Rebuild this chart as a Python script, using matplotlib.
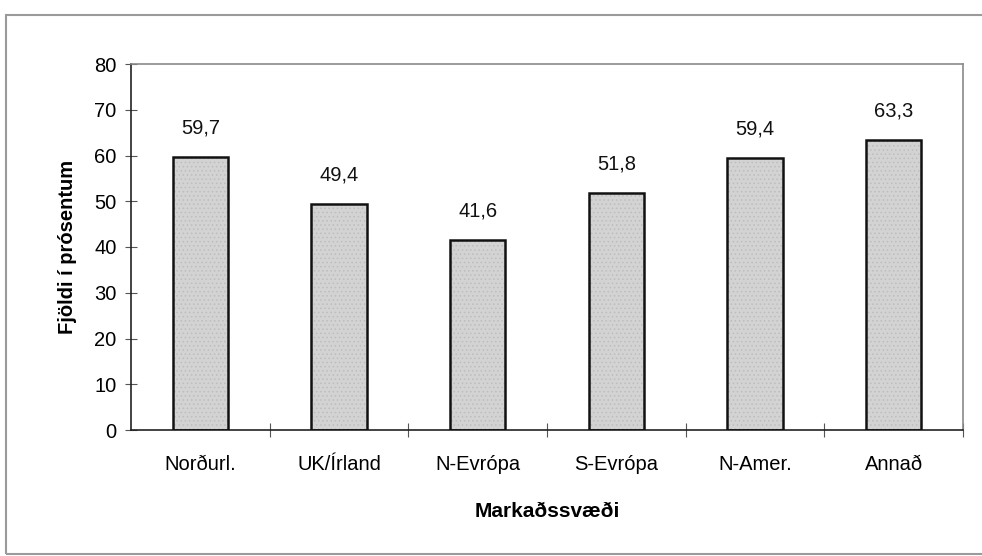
import matplotlib
matplotlib.use("Agg")
import matplotlib.pyplot as plt
from matplotlib.patches import Rectangle
import numpy as np

categories = ["Norðurl.", "UK/Írland", "N-Evrópa", "S-Evrópa", "N-Amer.", "Annað"]
values = [59.7, 49.4, 41.6, 51.8, 59.4, 63.3]
value_labels = ["59,7", "49,4", "41,6", "51,8", "59,4", "63,3"]
yticks = [0, 10, 20, 30, 40, 50, 60, 70, 80]

plt.rcParams['font.family'] = ['Liberation Sans', 'DejaVu Sans']
plt.rcParams['hatch.linewidth'] = 0.6

fig = plt.figure(figsize=(9.82, 5.56), dpi=100)
W, H = 982, 556
ax = fig.add_axes([131 / W, 1 - 430 / H, (963 - 131) / W, (430 - 64) / H])

# outer frame
fig.add_artist(Rectangle((6 / W, 2 / H), 1.2, 1 - 17 / H, transform=fig.transFigure,
                         fill=False, edgecolor='#9a9a9a', linewidth=1.5))

FS = 14.5
x = np.arange(len(categories))
ax.bar(x, values, width=0.4, color='#d3d3d3', edgecolor='#bdbdbd', linewidth=0,
       hatch='....', zorder=2)
ax.bar(x, values, width=0.4, fill=False, edgecolor='#111111', linewidth=1.8, zorder=3)

for xi, v, lab in zip(x, values, value_labels):
    ax.annotate(lab, (xi, v), xytext=(0, 21), textcoords='offset points',
                ha='center', va='center', fontsize=FS, color='#111111')

ax.set_xlim(-0.5, len(categories) - 0.5)
ax.set_ylim(0, 80)
ax.set_yticks(yticks)
ax.set_yticklabels([str(t) for t in yticks], fontsize=FS)
ax.set_xticks(x)
ax.set_xticklabels(categories, fontsize=FS)
ax.set_xticks(np.arange(len(categories)) + 0.5, minor=True)
ax.tick_params(axis='x', which='major', length=0, pad=18)
ax.tick_params(axis='x', which='minor', direction='inout', length=10, width=0.8, color='#555555')
ax.tick_params(axis='y', direction='inout', length=9, width=0.8, pad=6, color='#555555')

for s in ['left', 'bottom']:
    ax.spines[s].set_color('#222222')
    ax.spines[s].set_linewidth(1.2)
for s in ['top', 'right']:
    ax.spines[s].set_color('#8a8a8a')
    ax.spines[s].set_linewidth(1.2)

ax.set_xlabel("Markaðssvæði", fontsize=15, fontweight='bold', labelpad=20)
ax.set_ylabel("Fjöldi í prósentum", fontsize=FS, fontweight='bold', labelpad=12)

fig.savefig("out.png", dpi=100)
